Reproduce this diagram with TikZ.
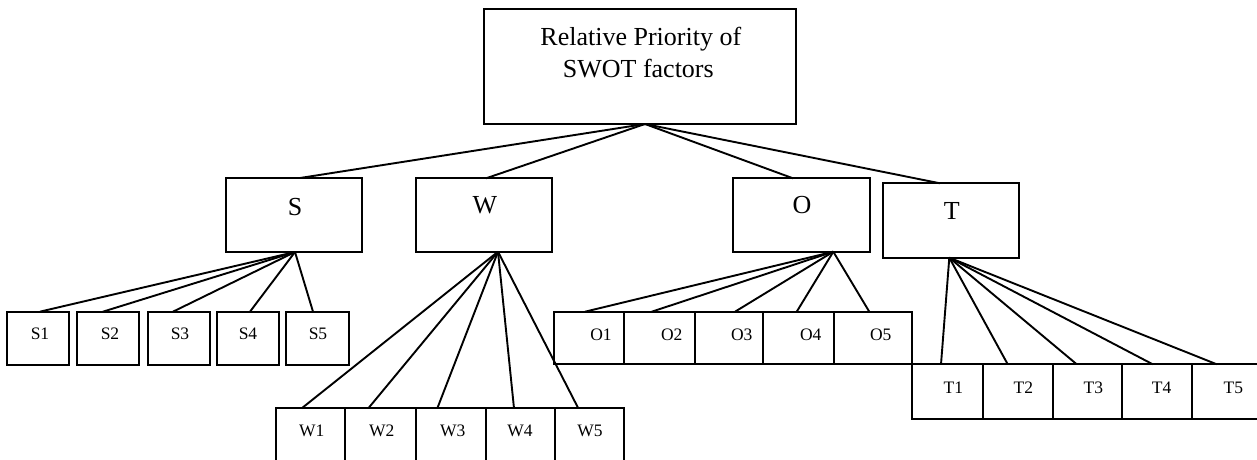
\documentclass[tikz,border=0pt]{standalone}
\usepackage{fontspec}
\setmainfont{Liberation Serif}
\begin{document}
\begin{tikzpicture}[x=1pt,y=-1pt,
  box/.style={draw=black, line width=2pt, rectangle, inner sep=0pt, outer sep=0pt},
  big/.style={inner sep=0pt, anchor=base, font=\fontsize{26}{33}\selectfont},
  small/.style={inner sep=0pt, anchor=base, font=\fontsize{17.5}{20}\selectfont},
  link/.style={draw=black, line width=1.9pt}]
\useasboundingbox (0,0) rectangle (1257,459);
\clip (0,0) rectangle (1257,459);

% top box
\node[box, minimum width=312pt, minimum height=115pt] (top) at (640,66.5) {};
\node[big] (topt1) at (640.8,45) {Relative Priority of};
\node[big] (topt2) at (638.3,77.5) {SWOT factors};

% level 2
\node[box, minimum width=136pt, minimum height=74pt] (S) at (294,215) {};
\node[big] (St) at (295,215) {S};
\node[box, minimum width=136.6pt, minimum height=73.4pt] (W) at (484,215) {};
\node[big] (Wt) at (485,213.3) {W};
\node[box, minimum width=136.7pt, minimum height=73.4pt] (O) at (801.7,215) {};
\node[big] (Ot) at (802,213) {O};
\node[box, minimum width=136pt, minimum height=74.4pt] (T) at (951.3,220.5) {};
\node[big] (Tt) at (951.7,219) {T};

\draw[link] ([xshift=5pt]top.south) -- ([xshift=6pt]S.north);
\draw[link] ([xshift=5pt]top.south) -- ([xshift=2pt]W.north);
\draw[link] ([xshift=5pt]top.south) -- ([xshift=-8.7pt]O.north);
\draw[link] ([xshift=5pt]top.south) -- ([xshift=-11.3pt]T.north);

% S children
\foreach \n/\cx/\w/\tx/\lx in {1/38/62.3/40/40, 2/108.3/62.3/110/103, 3/178.8/62.3/180/173, 4/247.8/62.3/248/250, 5/317.5/62.3/318/313}{
  \node[box, minimum width=\w pt, minimum height=53.3pt] (S\n) at (\cx,338.3) {};
  \node[small] (S\n t) at (\tx,339.3) {S\n};
  \draw[link] ([xshift=1pt]S.south) -- ([xshift=\lx pt-\cx pt]S\n.north);
}

% W children
\foreach \n/\cx/\w/\tx/\lx in {1/310.35/69.3/311.7/301.7, 2/380.25/70.5/381.7/368.3, 3/450.6/70.2/452.7/437.3, 4/520.2/69/520/514, 5/589.35/69.3/590/578.3}{
  \node[box, minimum width=\w pt, minimum height=53.2pt] (W\n) at (\cx,434.9) {};
  \node[small] (W\n t) at (\tx,436.7) {W\n};
  \draw[link] ([xshift=14pt]W.south) -- ([xshift=\lx pt-\cx pt]W\n.north);
}

% O children
\foreach \n/\cx/\w/\tx/\lx in {1/589.15/70.3/601/585, 2/659.65/70.7/671.7/651.7, 3/729.15/68.3/741.7/735, 4/798.65/70.7/810.7/796.7, 5/873.15/78.3/880.7/869.3}{
  \node[box, minimum width=\w pt, minimum height=52.6pt] (O\n) at (\cx,338) {};
  \node[small] (O\n t) at (\tx,340) {O\n};
  \draw[link] ([xshift=31.6pt]O.south) -- ([xshift=\lx pt-\cx pt]O\n.north);
}

% T children
\foreach \n/\cx/\w/\tx/\lx in {1/947.5/70.4/953.3/941, 2/1018/70.6/1023.3/1007.7, 3/1087.5/68.4/1093.3/1076.7, 4/1157/70.6/1161.7/1152.7, 5/1227.4/70.2/1233.3/1216.7}{
  \node[box, minimum width=\w pt, minimum height=54.5pt] (T\n) at (\cx,391.5) {};
  \node[small] (T\n t) at (\tx,393.3) {T\n};
  \draw[link] ([xshift=-2pt]T.south) -- ([xshift=\lx pt-\cx pt]T\n.north);
}
\end{tikzpicture}
\end{document}
